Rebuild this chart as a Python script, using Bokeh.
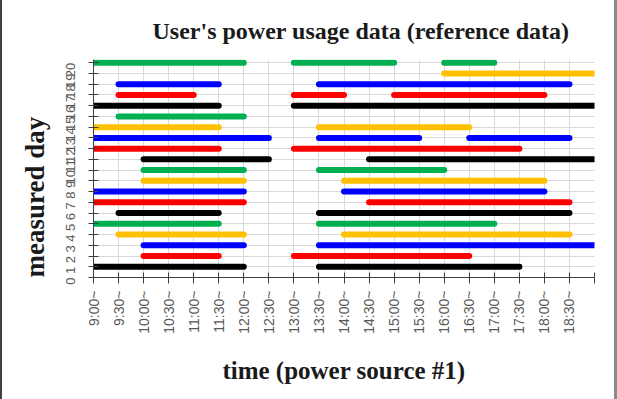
import math
from bokeh.plotting import figure
from bokeh.layouts import row
from bokeh.models import ColumnDataSource, Range1d, FixedTicker, Title, Spacer
from bokeh.embed import file_html
from bokeh.resources import INLINE

# ---- data -------------------------------------------------------------
days = [1, 1, 2, 2, 3, 3, 4, 4, 5, 5, 6, 6, 7, 7, 8, 8, 9, 9, 10, 10,
        11, 11, 12, 12, 13, 13, 13, 14, 14, 15, 16, 16, 17, 17, 17, 18, 18,
        19, 20, 20, 20]
starts = ["9:00", "13:30", "10:00", "13:00", "10:00", "13:30", "9:30", "14:00",
          "9:00", "13:30", "9:30", "13:30", "9:00", "14:30", "9:00", "14:00",
          "10:00", "14:00", "10:00", "13:30", "10:00", "14:30", "9:00", "13:00",
          "9:00", "13:30", "16:30", "9:00", "13:30", "9:30", "9:00", "13:00",
          "9:30", "13:00", "15:00", "9:30", "13:30", "16:00", "9:00", "13:00",
          "16:00"]
ends = ["12:00", "17:30", "11:30", "16:30", "12:00", "19:00", "12:00", "18:30",
        "11:30", "17:00", "11:30", "18:30", "12:00", "18:30", "12:00", "18:00",
        "12:00", "18:00", "12:00", "16:00", "12:30", "19:00", "11:30", "17:30",
        "12:30", "15:30", "18:30", "11:30", "16:30", "12:00", "11:30", "19:00",
        "11:00", "14:00", "18:00", "11:30", "18:30", "19:00", "12:00", "15:00",
        "17:00"]
tick_times = ["9:00", "9:30", "10:00", "10:30", "11:00", "11:30", "12:00", "12:30",
              "13:00", "13:30", "14:00", "14:30", "15:00", "15:30", "16:00", "16:30",
              "17:00", "17:30", "18:00", "18:30", "19:00"]
tick_labels = ["9:00~", "9:30~", "10:00~", "10:30~", "11:00~", "11:30~", "12:00~",
               "12:30~", "13:00~", "13:30~", "14:00~", "14:30~", "15:00~", "15:30~",
               "16:00~", "16:30~", "17:00~", "17:30~", "18:00~", "18:30~", ""]
day_ticks = list(range(0, 21))
palette = ["#000000", "#FF0000", "#0000FF", "#FFC000", "#00B050"]


def hours(t):
    h, m = t.split(":")
    return int(h) + int(m) / 60.0


src = ColumnDataSource(dict(
    x0=[hours(s) for s in starts],
    x1=[hours(e) for e in ends],
    y=days,
    color=[palette[(d - 1) % 5] for d in days],
))

tick_vals = [hours(t) for t in tick_times]

p = figure(width=612, height=399, output_backend="svg", toolbar_location=None,
           x_range=Range1d(tick_vals[0], tick_vals[-1]), y_range=Range1d(0, 20.3),
           min_border_left=91, min_border_right=20, min_border_top=59,
           min_border_bottom=122)
p.outline_line_color = None
p.background_fill_color = "white"
p.border_fill_color = "white"

p.segment(x0="x0", y0="y", x1="x1", y1="y", color="color", line_width=6,
          line_cap="round", source=src)

# title
p.title = Title(text="User's power usage data (reference data)", align="left",
                offset=59, text_font="Liberation Serif", text_font_size="24px",
                text_font_style="bold", text_color="#1a1a1a", standoff=31)

# x axis
xa = p.xaxis[0]
xa.ticker = FixedTicker(ticks=tick_vals)
xa.major_label_overrides = {v: l for v, l in zip(tick_vals, tick_labels)}
xa.major_label_orientation = math.pi / 2
xa.major_label_text_font = "Liberation Sans"
xa.major_label_text_font_size = "14px"
xa.major_label_text_color = "#595959"
xa.major_label_standoff = 7
xa.major_tick_in = 5
xa.major_tick_out = 6
xa.minor_tick_line_color = None
xa.axis_line_color = "#404040"
xa.major_tick_line_color = "#404040"
xa.axis_label = "time (power source #1)"
xa.axis_label_text_font = "Liberation Serif"
xa.axis_label_text_font_size = "25px"
xa.axis_label_text_font_style = "bold"
xa.axis_label_text_color = "#1a1a1a"
xa.axis_label_standoff = 20

# y axis
ya = p.yaxis[0]
ya.ticker = FixedTicker(ticks=day_ticks)
ya.major_label_orientation = math.pi / 2
ya.major_label_text_font = "Liberation Sans"
ya.major_label_text_font_size = "13px"
ya.major_label_text_color = "#595959"
ya.major_label_standoff = 18
ya.major_tick_in = 5
ya.major_tick_out = 5
ya.minor_tick_line_color = None
ya.axis_line_color = "#404040"
ya.major_tick_line_color = "#404040"

p.add_layout(Title(text="measured day", align="left", offset=0,
                   text_font="Liberation Serif", text_font_size="27px",
                   text_font_style="bold", text_color="#1a1a1a", standoff=18), "left")

p.xgrid.ticker = FixedTicker(ticks=tick_vals)
p.ygrid.ticker = FixedTicker(ticks=day_ticks)
p.xgrid.grid_line_color = "#d9d9d9"
p.ygrid.grid_line_color = "#d9d9d9"

left_edge = Spacer(width=2, height=399, styles={"background-color": "#404040"})
right_edge = Spacer(width=3, height=399, styles={"background-color": "#8a8a8a"})
layout = row(left_edge, p, right_edge, spacing=0)

open("out.html", "w").write(file_html(layout, INLINE))
